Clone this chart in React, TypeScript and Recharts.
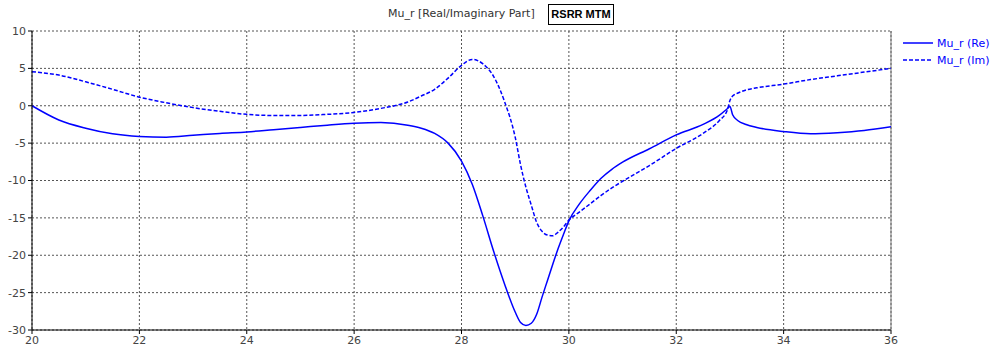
import { CartesianGrid, Line, LineChart, ReferenceLine, XAxis, YAxis } from 'recharts'

const freq = [
  20, 20.5, 21, 21.5, 22, 22.5, 23, 23.5, 24, 24.5, 25, 25.5, 26, 26.5, 27, 27.25, 27.5, 27.75,
  28, 28.2, 28.4, 28.6, 28.8, 29, 29.1, 29.2, 29.3, 29.4, 29.5, 29.6, 29.7, 29.8, 29.9, 30,
  30.2, 30.4, 30.6, 30.8, 31, 31.5, 32, 32.5, 32.8, 32.95, 33, 33.05, 33.15, 33.3, 33.5, 34,
  34.5, 35, 35.5, 36,
]

const muRe = [
  0, -1.9, -3.0, -3.75, -4.1, -4.2, -3.95, -3.7, -3.5, -3.2, -2.9, -2.6, -2.35, -2.25, -2.6,
  -3.0, -3.7, -5.0, -7.4, -10.5, -14.8, -19.5, -23.8, -27.6, -29.0, -29.4, -29.1, -27.9,
  -25.6, -23.4, -21.2, -19.1, -17.2, -15.4, -13.1, -11.3, -9.7, -8.5, -7.55, -5.75, -3.9, -2.5,
  -1.3, -0.4, -0.1, -1.2, -2.0, -2.5, -2.9, -3.45, -3.75, -3.6, -3.3, -2.8,
]

const muIm = [
  4.55, 4.1, 3.2, 2.2, 1.15, 0.4, -0.25, -0.75, -1.15, -1.3, -1.3, -1.15, -0.9, -0.35, 0.5,
  1.3, 2.2, 3.7, 5.4, 6.2, 5.6, 3.9, 0.6, -4.2, -7.9, -10.9, -13.3, -15.6, -16.8, -17.3,
  -17.4, -16.9, -16.2, -15.3, -14.2, -13.1, -12.0, -11.0, -10.1, -8.0, -5.7, -3.7, -2.0, -0.6,
  0.7, 1.3, 1.7, 2.1, 2.4, 2.9, 3.5, 4.0, 4.5, 5.0,
]

const xTicks = [20, 22, 24, 26, 28, 30, 32, 34, 36]
const yTicks = [-30, -25, -20, -15, -10, -5, 0, 5, 10]

const data = freq.map((f, i) => ({ f, re: muRe[i], im: muIm[i] }))

const font = 'Tahoma, "DejaVu Sans", sans-serif'

function LegendBox() {
  const items = [
    { label: 'Mu_r (Re)', dash: undefined },
    { label: 'Mu_r (Im)', dash: '4 2' },
  ]
  return (
    <svg width={95} height={40} style={{ position: 'absolute', left: 903, top: 36 }}>
      {items.map((it, i) => (
        <g key={it.label}>
          <line
            x1={0}
            x2={30}
            y1={7 + i * 17}
            y2={7 + i * 17}
            stroke="#0000ff"
            strokeWidth={1.5}
            strokeDasharray={it.dash}
          />
          <text x={34} y={11 + i * 17} fill="#0000ff" fontSize={11} fontFamily={font}>
            {it.label}
          </text>
        </g>
      ))}
    </svg>
  )
}

export default function App() {
  return (
    <div style={{ position: 'absolute', left: 0, top: 0, width: 998, height: 360, background: '#fff' }}>
      <div
        style={{
          position: 'absolute',
          left: 388,
          top: 7,
          fontFamily: font,
          fontSize: 11,
          color: '#333',
          whiteSpace: 'nowrap',
        }}
      >
        Mu_r [Real/Imaginary Part]
      </div>
      <div
        style={{
          position: 'absolute',
          left: 548,
          top: 4,
          width: 64,
          height: 19,
          border: '1.5px solid #000',
          fontFamily: '"Liberation Sans", Arial, sans-serif',
          fontSize: 11,
          fontWeight: 'bold',
          lineHeight: '19px',
          textAlign: 'center',
          color: '#000',
          whiteSpace: 'nowrap',
        }}
      >
        RSRR MTM
      </div>
      <LineChart width={998} height={360} data={data} margin={{ top: 31, right: 107, bottom: 0, left: 0 }}>
        <CartesianGrid stroke="#555" strokeDasharray="2 2" />
        <XAxis
          dataKey="f"
          type="number"
          domain={[20, 36]}
          ticks={xTicks}
          height={30}
          tick={{ fill: '#444', fontSize: 11, fontFamily: font }}
          tickLine={{ stroke: '#000' }}
          tickSize={4}
          axisLine={{ stroke: '#000' }}
        />
        <YAxis
          type="number"
          domain={[-30, 10]}
          ticks={yTicks}
          width={32}
          tick={{ fill: '#444', fontSize: 11, fontFamily: font }}
          tickLine={{ stroke: '#000' }}
          tickSize={4}
          axisLine={{ stroke: '#000' }}
        />
        <ReferenceLine x={36} stroke="#777" />
        <Line
          type="monotone"
          dataKey="re"
          stroke="#0000ff"
          strokeWidth={1.5}
          dot={false}
          isAnimationActive={false}
        />
        <Line
          type="monotone"
          dataKey="im"
          stroke="#0000ff"
          strokeWidth={1.5}
          strokeDasharray="4 2"
          dot={false}
          isAnimationActive={false}
        />
      </LineChart>
      <LegendBox />
    </div>
  )
}
